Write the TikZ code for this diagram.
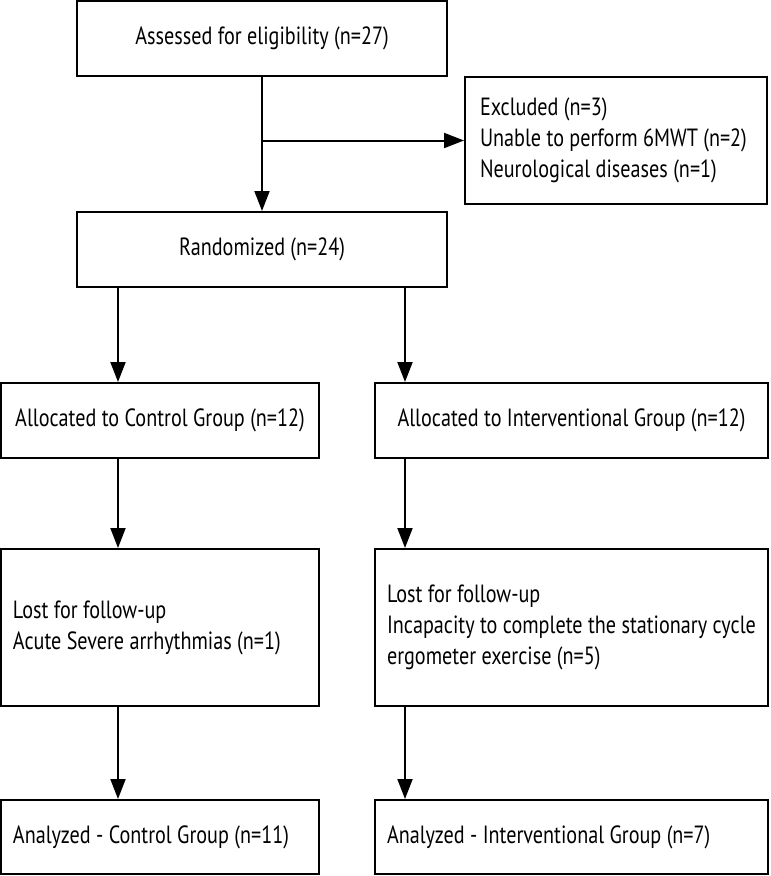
\documentclass[tikz,border=0pt]{standalone}
\usepackage{fontspec}
\setmainfont[FakeStretch=0.81]{PT Sans}
\usetikzlibrary{arrows.meta}

\tikzset{
  box/.style={draw, line width=2bp, rectangle, inner sep=0pt,
    font=\fontsize{25}{31}\selectfont},
  leftbox/.style={box, align=flush left, inner xsep=12bp},
  arr/.style={line width=2bp, -{Triangle[length=20bp,width=15bp]}},
}

\begin{document}
\begin{tikzpicture}[x=1bp,y=-1bp]
            \useasboundingbox (0,0) rectangle (771,876);

            % Drawing top boxes
            \node [box, minimum width=370bp, minimum height=75bp] (assess) at (262,38.5) {Assessed for eligibility (n=27)};%
            \node [leftbox, inner xsep=15bp, text width=272bp, minimum height=127bp] (excl) at (616,140.5)
              {Excluded (n=3)\\Unable to perform 6MWT (n=2)\\Neurological diseases (n=1)};%
            \node [box, minimum width=370bp, minimum height=75bp] (rand) at (262,249.5) {Randomized (n=24)};%

            % Drawing allocation boxes
            \node [box, minimum width=318bp, minimum height=75bp] (allocC) at (160,420.5) {Allocated to Control Group (n=12)};%
            \node [box, minimum width=393bp, minimum height=75bp] (allocI) at (571.5,420.5) {Allocated to Interventional Group (n=12)};%

            % Drawing follow-up boxes
            \node [leftbox, text width=294bp, minimum height=157bp] (lostC) at (160,627.5)
              {Lost for follow-up\\Acute Severe arrhythmias (n=1)};%
            \node [leftbox, text width=369bp, minimum height=157bp] (lostI) at (571.5,627.5)
              {Lost for follow-up\\\mbox{Incapacity to complete the stationary cycle}\\ergometer exercise (n=5)};%

            % Drawing analysis boxes
            \node [leftbox, text width=294bp, minimum height=74bp] (anaC) at (160,837) {Analyzed - Control Group (n=11)};%
            \node [leftbox, text width=369bp, minimum height=74bp] (anaI) at (571.5,837) {Analyzed - Interventional Group (n=7)};%

            % Marking arrow columns
            \coordinate (colC) at (118,0);%
            \coordinate (colI) at (405,0);%
            \coordinate (split) at (assess.south |- excl.west);%

            % Drawing connectors
            \draw [arr] (assess.south) -- (rand.north);%
            \draw [arr] (split) -- (excl.west);%
            \draw [arr] (rand.south -| colC) -- (allocC.north -| colC);%
            \draw [arr] (rand.south -| colI) -- (allocI.north -| colI);%
            \draw [arr] (allocC.south -| colC) -- (lostC.north -| colC);%
            \draw [arr] (allocI.south -| colI) -- (lostI.north -| colI);%
            \draw [arr] (lostC.south -| colC) -- (anaC.north -| colC);%
            \draw [arr] (lostI.south -| colI) -- (anaI.north -| colI);%
        \end{tikzpicture}
\end{document}
